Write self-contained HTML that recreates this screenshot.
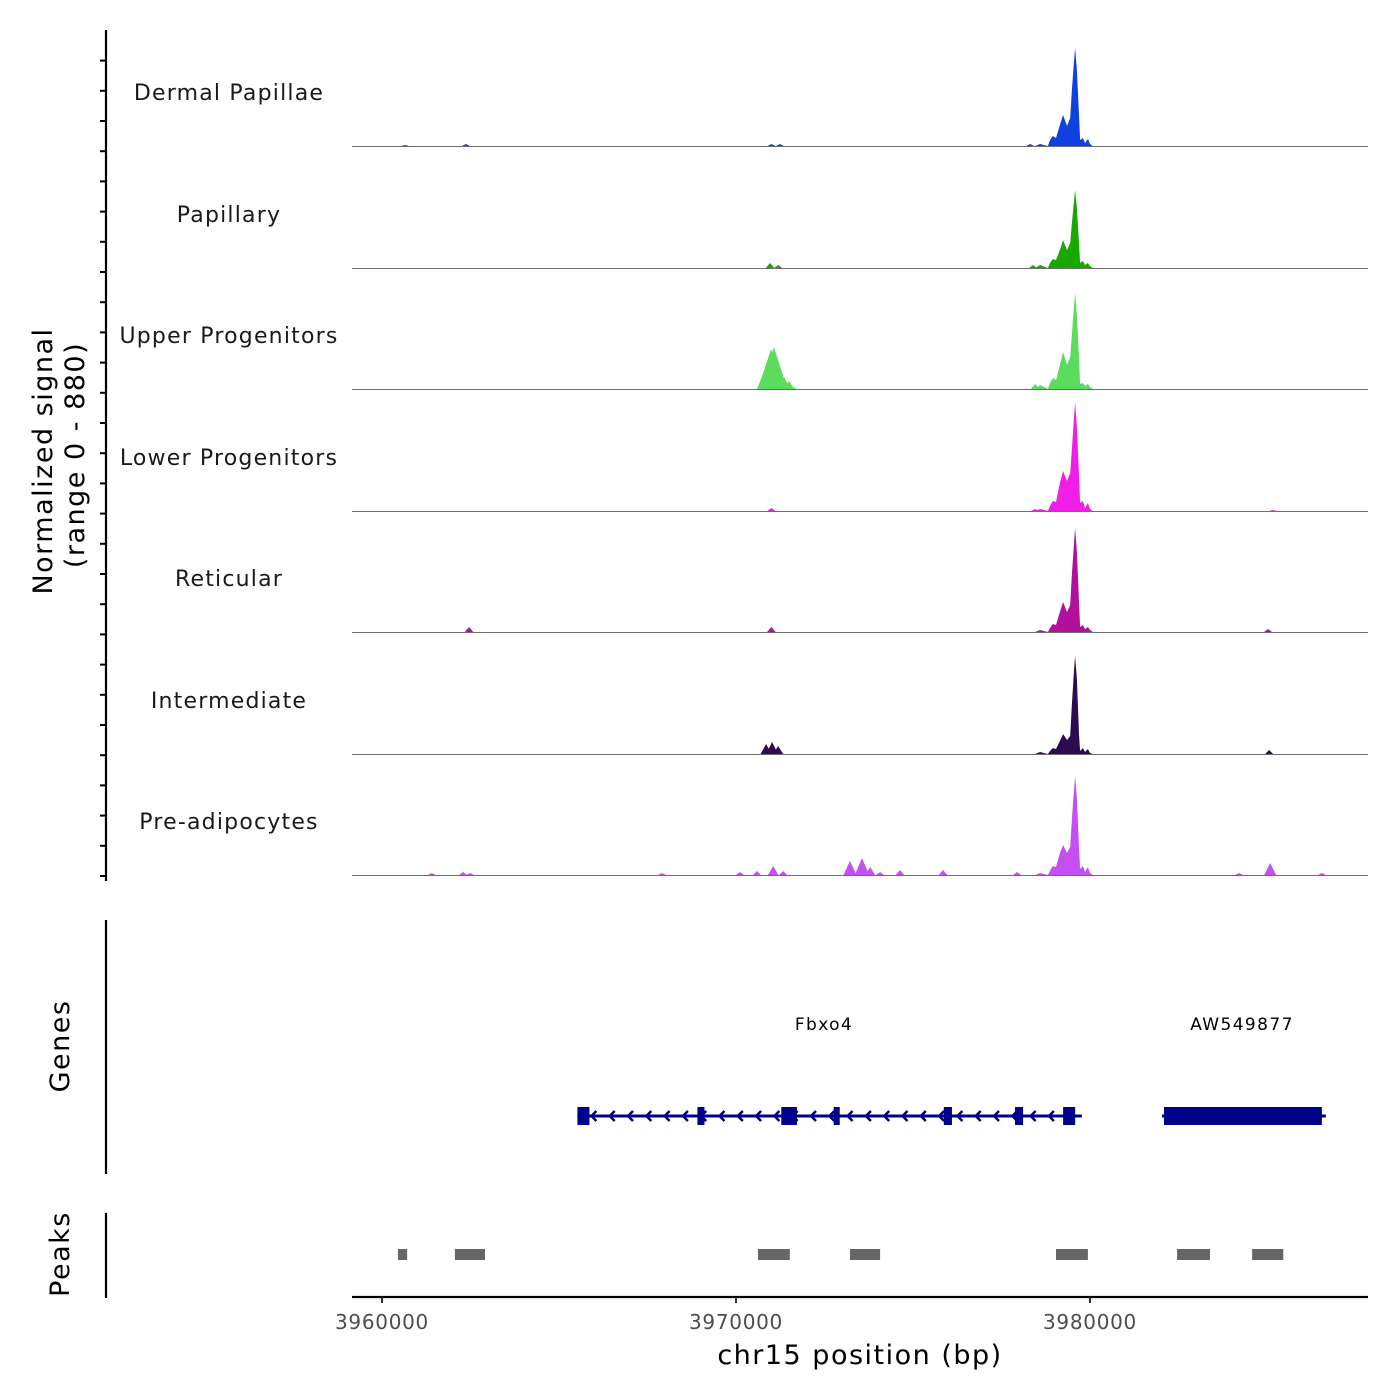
<!DOCTYPE html>
<html><head><meta charset="utf-8">
<style>
html,body{margin:0;padding:0;background:#fff;}
svg{display:block;font-family:"DejaVu Sans","Liberation Sans",sans-serif;}
</style></head>
<body>
<svg id="chart" width="1400" height="1400" viewBox="0 0 1400 1400" xmlns="http://www.w3.org/2000/svg">
<g id="tracks"></g>
<g id="genes"></g>
<g id="peaks"></g>
<g id="axes"></g>
</svg>
<script>
// ---- data ----
const trackNames = ["Dermal Papillae","Papillary","Upper Progenitors","Lower Progenitors","Reticular","Intermediate","Pre-adipocytes"];
const trackColors = ["#1040e0","#18a800","#5cdc5c","#f01ee6","#b0109c","#2e0a50","#c250f2"];
// main peak sample positions (bp)
const mainPos = [3978450,3978590,3978810,3978870,3978950,3979040,3979150,3979240,3979350,3979440,3979490,3979550,3979580,3979630,3979690,3979720,3979800,3979860,3979940,3980000,3980080];
// signal values (scaled so 100 = track height)
const sigT1 = [0,2,0,6,10,8,21,31,20,28,56,86,98,76,31,6,8,3,7,2,0];
const sigT2 = [0,3,0,5,9,8,18,28,18,25,45,68,78,60,25,5,7,3,5,2,0];
const sigT3 = [0,4,0,6,11,9,24,37,24,32,55,84,96,74,30,5,6,3,5,2,0];
const sigT4 = [0,2,0,5,10,9,28,40,30,38,62,95,109,84,35,8,10,3,8,2,0];
const sigT5 = [0,2,0,4,8,7,20,30,20,27,58,90,104,80,30,5,7,3,5,2,0];
const sigT6 = [0,2,0,3,6,5,13,20,14,18,50,85,98,75,20,3,6,2,5,1,0];
const sigT7 = [0,2,0,4,9,8,22,30,22,28,56,86,99,76,28,6,9,3,8,2,0];
const mainSignals = [sigT1,sigT2,sigT3,sigT4,sigT5,sigT6,sigT7];
// minor bumps: positions (bp) and heights per track
const bumpPosT1 = [3960650,3962370,3971000,3971240,3978310];
const bumpValT1 = [1,2,2,2,2];
const bumpPosT2 = [3970960,3971190,3978390];
const bumpValT2 = [5,3,3];
const bumpPosT3 = [3970820,3970990,3971070,3971160,3971360,3971500,3971610,3978450];
const bumpValT3 = [20,40,42,25,12,8,2,5];
const bumpPosT4 = [3971000,3978450,3985170];
const bumpValT4 = [3,2,1];
const bumpPosT5 = [3962460,3971000,3985030];
const bumpValT5 = [5,5,3];
const bumpPosT6 = [3970850,3971020,3971190,3985060];
const bumpValT6 = [10,12,8,4];
const bumpPosT7 = [3961410,3962290,3962490,3967910,3970110,3970590,3971050,3971330,3973220,3973560,3973790,3974070,3974630,3975850,3977940,3984210,3985090,3986550];
const bumpValT7 = [2,3,2,2,3,4,9,4,14,17,8,3,5,5,3,2,12,2];
const bumpPos = [bumpPosT1,bumpPosT2,bumpPosT3,bumpPosT4,bumpPosT5,bumpPosT6,bumpPosT7];
const bumpVal = [bumpValT1,bumpValT2,bumpValT3,bumpValT4,bumpValT5,bumpValT6,bumpValT7];
// genes
const fbxoStart = 3965520, fbxoEnd = 3979770;
const fbxoExonStart = [3965520,3968910,3971280,3971380,3972760,3975870,3977880,3979240];
const fbxoExonEnd   = [3965860,3969110,3971560,3971720,3972930,3976100,3978110,3979580];
const awStart = 3982090, awEnd = 3986550;
// peaks
const peakStart = [3960450,3962060,3970620,3973220,3979040,3982460,3984580];
const peakEnd   = [3960710,3962910,3971520,3974070,3979940,3983390,3985460];
const xTicks = [3960000,3970000,3980000];

// ---- scales ----
const X0 = 3960000, PX0 = 382, PXPERBP = 354/10000;
const xs = bp => PX0 + (bp - X0) * PXPERBP;
const baselines = [146,268,389,511,632,754,875];
const ys = (b,v) => b - v;
const NS = "http://www.w3.org/2000/svg";
function mk(tag, attrs, parent){const e=document.createElementNS(NS,tag);for(const k in attrs)e.setAttribute(k,attrs[k]);parent.appendChild(e);return e;}

const gT = document.getElementById('tracks');
baselines.forEach((b,i)=>{
  const g = mk('g',{},gT);
  
  
  const lab = mk('text',{x:229,y:b-46,'text-anchor':'middle','font-size':'22','letter-spacing':'1.2',fill:'#1a1a1a'},g);
  lab.textContent = trackNames[i];
  
  
  bumpPos[i].forEach((p,j)=>{
    const v = bumpVal[i][j], x = xs(p), w = Math.max(4, 3 + v*0.25);
    const poly = mk('polygon',{points:`${x-w},${b} ${x},${ys(b,v)} ${x+w},${b}`,fill:trackColors[i]},g);
    
    
  });
  let d = `M${xs(mainPos[0])},${b}`;
  mainPos.forEach((p,j)=>{ d += ` L${xs(p).toFixed(1)},${ys(b,mainSignals[i][j])}`; });
  d += ` L${xs(mainPos[mainPos.length-1])},${b} Z`;
  const path = mk('path',{d:d,fill:trackColors[i]},g);
  
  
  const bl = mk('line',{x1:352,x2:1368,y1:b+0.5,y2:b+0.5,stroke:'#6e6e6e','stroke-width':1},g);
  
  
});

// genes
const gG = document.getElementById('genes');
const GY = 1116;
mk('line',{x1:xs(fbxoStart),x2:xs(fbxoEnd),y1:GY,y2:GY,stroke:'#00008b','stroke-width':3},gG);
for(let x = xs(fbxoStart)+14; x < xs(fbxoEnd)-4; x += 18.3){
  mk('polyline',{points:`${x+5},${GY-5} ${x},${GY} ${x+5},${GY+5}`,fill:'none',stroke:'#00008b','stroke-width':2.5},gG);
}
fbxoExonStart.forEach((s,j)=>{
  const r = mk('rect',{x:xs(s),y:GY-9,width:Math.max(4,xs(fbxoExonEnd[j])-xs(s)),height:18,fill:'#00008b'},gG);
  
  
});
const t1 = mk('text',{x:824,y:1030,'text-anchor':'middle','font-size':'17','letter-spacing':'1.4',fill:'#000'},gG);
t1.textContent='Fbxo4';


mk('line',{x1:xs(awStart)-2,x2:xs(awEnd)+4,y1:GY,y2:GY,stroke:'#00008b','stroke-width':3},gG);
const aw = mk('rect',{x:xs(awStart),y:GY-9,width:xs(awEnd)-xs(awStart),height:18,fill:'#00008b'},gG);


const t2 = mk('text',{x:1242,y:1030,'text-anchor':'middle','font-size':'17','letter-spacing':'1.4',fill:'#000'},gG);
t2.textContent='AW549877';



// peaks
const gP = document.getElementById('peaks');
peakStart.forEach((s,j)=>{
  const r = mk('rect',{x:xs(s),y:1249,width:xs(peakEnd[j])-xs(s),height:11,fill:'#666666'},gP);
  
  
});

// axes
const gA = document.getElementById('axes');
mk('line',{x1:106,x2:106,y1:30,y2:881,stroke:'#000','stroke-width':2.2},gA);
for(let y = 876; y >= 32; y -= 30.2){
  mk('line',{x1:100,x2:106,y1:y,y2:y,stroke:'#000','stroke-width':2},gA);
}
mk('line',{x1:106,x2:106,y1:920,y2:1174,stroke:'#000','stroke-width':2.2},gA);
mk('line',{x1:106,x2:106,y1:1213,y2:1298,stroke:'#000','stroke-width':2.2},gA);
mk('line',{x1:352,x2:1368,y1:1297,y2:1297,stroke:'#000','stroke-width':2.2},gA);
xTicks.forEach(t=>{
  mk('line',{x1:xs(t),x2:xs(t),y1:1297,y2:1303,stroke:'#333','stroke-width':2},gA);
  const tl = mk('text',{x:xs(t),y:1329,'text-anchor':'middle','font-size':'20','letter-spacing':'0.7',fill:'#4d4d4d'},gA);
  tl.textContent = String(t);
  
  
});
const xt = mk('text',{x:860,y:1364,'text-anchor':'middle','font-size':'27','letter-spacing':'1.5',fill:'#000'},gA);
xt.textContent='chr15 position (bp)';


const yt1 = mk('text',{x:0,y:0,'text-anchor':'middle','font-size':'27','letter-spacing':'1.5',fill:'#000',transform:'translate(52,461) rotate(-90)'},gA);
yt1.textContent='Normalized signal';


const yt2 = mk('text',{x:0,y:0,'text-anchor':'middle','font-size':'27','letter-spacing':'1.5',fill:'#000',transform:'translate(84,455) rotate(-90)'},gA);
yt2.textContent='(range 0 - 880)';


const yg = mk('text',{x:0,y:0,'text-anchor':'middle','font-size':'27','letter-spacing':'1.5',fill:'#000',transform:'translate(69,1046) rotate(-90)'},gA);
yg.textContent='Genes';


const yp = mk('text',{x:0,y:0,'text-anchor':'middle','font-size':'27','letter-spacing':'1.5',fill:'#000',transform:'translate(69,1254) rotate(-90)'},gA);
yp.textContent='Peaks';


</script>
</body></html>
